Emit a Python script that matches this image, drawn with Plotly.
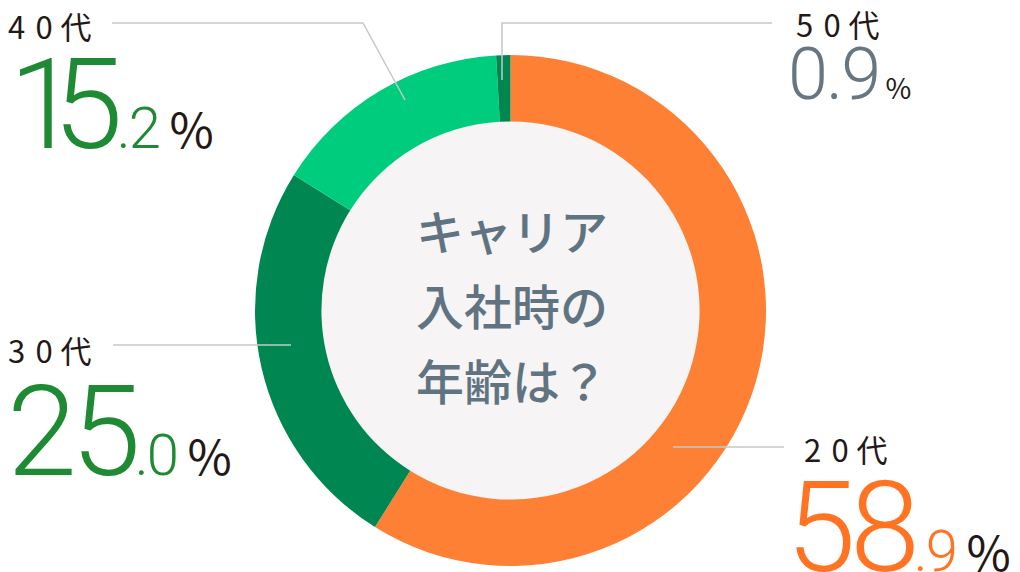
import plotly.graph_objects as go

W, H = 1020, 572

# ---- data ----
categories = ["20代", "30代", "40代", "50代"]
label_text = ["2\u20040\u2005代", "3\u20040\u2005代", "4\u20040\u2005代", "5\u20040\u2005代"]
shares = [58.9, 25.0, 15.2, 0.9]
slice_colors = ["#fe8035", "#008751", "#00cc7e", "#008751"]
number_colors = ["#ff7322", "#1e8a34", "#1e8a34", "#677680"]
center_lines = ["キャリア", "入社時の", "年齢は？"]


def px(x):
    return x / W


def py(y):
    return 1 - y / H


fig = go.Figure()

fig.add_trace(go.Pie(
    labels=categories,
    values=shares,
    marker=dict(colors=slice_colors, line=dict(width=0)),
    hole=0.74,
    sort=False,
    direction="clockwise",
    rotation=0,
    textinfo="none",
    hoverinfo="skip",
    showlegend=False,
    domain=dict(x=[px(255), px(766)], y=[py(566), py(55)]),
))

shapes = []
# hole fill
cx, cy, r = 510.5, 310.5, 191
shapes.append(dict(type="circle", xref="paper", yref="paper", layer="below",
                   x0=px(cx - r), x1=px(cx + r), y0=py(cy + r), y1=py(cy - r),
                   fillcolor="#f6f4f5", line=dict(width=0)))

line_style = dict(color="#c3c8cc", width=1.5)


def path(points):
    return "M " + " L ".join(f"{px(x)},{py(y)}" for x, y in points)


leaders = [
    [(673, 447), (784, 447)],               # 20代
    [(113, 345), (291, 345)],               # 30代
    [(112, 23), (363, 23), (405, 100)],     # 40代
    [(502, 80), (502, 23), (772, 23)],      # 50代
]
for pts in leaders:
    shapes.append(dict(type="path", xref="paper", yref="paper", path=path(pts),
                       line=line_style, layer="above"))

annotations = []
NUMFONT = "Roboto"
CJK = "Noto Sans CJK JP"

# (label left x, label center y, number left x, number box bottom y)
label_pos = [
    (802, 448, 784, 604),
    (6, 349, 5, 508),
    (6, 26, 7, 181),
    (794, 23, 786, 119),
]


def int_part(s):
    # narrow the tabular "1" so digits sit like proportional figures
    out = ""
    for ch in s:
        if ch == "1":
            out += '<span style="letter-spacing:-26px">1</span>'
        else:
            out += ch
    return out


pct_style = f"color:#231815;font-family:{CJK};font-weight:400"

for i, (cat, val) in enumerate(zip(label_text, shares)):
    lx, ly, nx, ny = label_pos[i]
    annotations.append(dict(
        text=cat, x=px(lx), y=py(ly), xref="paper", yref="paper",
        xanchor="left", yanchor="middle", showarrow=False,
        font=dict(family=CJK, size=31, color="#231815")))
    ip, dp = f"{val:.1f}".split(".")
    col = number_colors[i]
    if val >= 10:
        txt = (f'<span style="font-size:126px;color:{col};letter-spacing:-6px">{int_part(ip)}</span>'
               f'<span style="font-size:58px;color:{col};letter-spacing:-2px">.{dp}</span>'
               f'<span style="font-size:48px;{pct_style}"> %</span>')
    else:
        txt = (f'<span style="font-size:72px;color:{col};letter-spacing:-2px">{ip}.{dp}</span>'
               f'<span style="font-size:28px;{pct_style}"> %</span>')
    annotations.append(dict(
        text=txt, x=px(nx), y=py(ny), xref="paper", yref="paper",
        xanchor="left", yanchor="bottom", showarrow=False,
        font=dict(family=NUMFONT, size=60, color=col, weight=300)))

for j, t in enumerate(center_lines):
    annotations.append(dict(
        text=t, x=px(512), y=py(229 + 75 * j), xref="paper", yref="paper",
        xanchor="center", yanchor="middle", showarrow=False,
        font=dict(family=CJK, size=48, color="#607380", weight=500)))

fig.update_layout(
    width=W, height=H, autosize=False,
    margin=dict(l=0, r=0, t=0, b=0),
    paper_bgcolor="white", plot_bgcolor="white",
    shapes=shapes, annotations=annotations,
)

fig.write_html("out.html", config={"displayModeBar": False},
               post_script="document.body.style.margin='0';")
